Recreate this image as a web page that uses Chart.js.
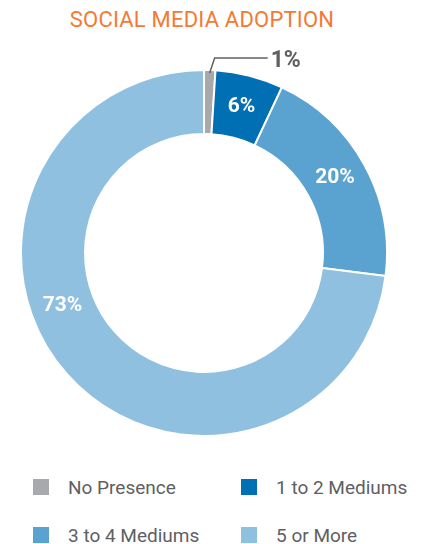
<!DOCTYPE html>
<html>
<head>
<meta charset="utf-8">
<script src="https://cdn.jsdelivr.net/npm/chart.js@4.4.0/dist/chart.umd.min.js"></script>
<style>
    body { margin: 0; width: 434px; height: 544px; background: #fff; overflow: hidden; position: relative;
           font-family: "Liberation Sans Narrow", "Roboto", sans-serif; }
    #title { position: absolute; top: 7px; left: 0; width: 404px; text-align: center;
             color: #f47a33; font-size: 22px; letter-spacing: 0.2px; }
    #wrap { position: absolute; left: 20px; top: 40px; width: 368px; height: 397px; }
    #legend { position: absolute; left: 33px; top: 476px; width: 400px; }
    .item { position: absolute; color: #5f6062; font-size: 19px; line-height: 24px; white-space: nowrap; }
    .item span { display: inline-block; width: 16px; height: 16px; margin-right: 19px; vertical-align: -1px; }
</style>
</head>
<body>
<div id="title">SOCIAL MEDIA ADOPTION</div>
<div id="wrap"><canvas id="chart"></canvas></div>
<div id="legend"></div>
<script>
var labels = ['No Presence', '1 to 2 Mediums', '3 to 4 Mediums', '5 or More'];
var values = [1, 6, 20, 73];
var colors = ['#a7a9ac', '#006fb3', '#5aa3d1', '#8fc0df'];

// etiquetas de porcentaje
var pctLabels = {
    id: 'pctLabels',
    afterDatasetsDraw: function(chart, args, opts) {
        let ctx = chart.ctx;
        let meta = chart.getDatasetMeta(0);
        ctx.save();
        meta.data.forEach(function(arc, i) {
            let txt = values[i] + '%';
            let mid = (arc.startAngle + arc.endAngle) / 2;
            if (values[i] < 3) {
                // etiqueta fuera con linea guia
                let r0 = arc.outerRadius - 3;
                let x0 = arc.x + Math.cos(mid) * r0;
                let y0 = arc.y + Math.sin(mid) * r0;
                let x1 = x0 + 5, y1 = y0 - 15;
                ctx.strokeStyle = '#5f6062';
                ctx.lineWidth = 1.5;
                ctx.beginPath();
                ctx.moveTo(x0, y0);
                ctx.lineTo(x1, y1);
                ctx.lineTo(x1 + 53, y1);
                ctx.stroke();
                ctx.fillStyle = '#5f6062';
                ctx.font = 'bold 23px "Liberation Sans Narrow", Roboto, sans-serif';
                ctx.textAlign = 'left';
                ctx.textBaseline = 'middle';
                ctx.fillText(txt, x1 + 56, y1 + 3);
            } else {
                let a = mid + (opts.shift[i] || 0) * Math.PI / 180;
                let r = (arc.innerRadius + arc.outerRadius) / 2;
                ctx.fillStyle = '#ffffff';
                ctx.font = 'bold 21px "Liberation Sans Narrow", Roboto, sans-serif';
                ctx.textAlign = 'center';
                ctx.textBaseline = 'middle';
                ctx.fillText(txt, arc.x + Math.cos(a) * r, arc.y + Math.sin(a) * r);
            }
        });
        ctx.restore();
    }
};

new Chart(document.getElementById('chart'), {
    type: 'doughnut',
    data: {
        labels: labels,
        datasets: [{
            data: values,
            backgroundColor: colors,
            borderColor: '#ffffff',
            borderWidth: 2
        }]
    },
    options: {
        responsive: true,
        maintainAspectRatio: false,
        animation: false,
        cutout: '65%',
        layout: { padding: { top: 29 } },
        plugins: {
            legend: { display: false },
            tooltip: { enabled: false },
            pctLabels: { shift: [0, 0, -1, 21] }
        }
    },
    plugins: [pctLabels]
});

// leyenda en dos columnas
var pos = [[0, 0], [208, 0], [0, 48], [208, 48]];
labels.forEach(function(l, i) {
    let d = document.createElement('div');
    d.className = 'item';
    d.style.left = pos[i][0] + 'px';
    d.style.top = pos[i][1] + 'px';
    d.innerHTML = '<span style="background:' + colors[i] + '"></span>' + l;
    document.getElementById('legend').appendChild(d);
});
</script>
</body>
</html>
